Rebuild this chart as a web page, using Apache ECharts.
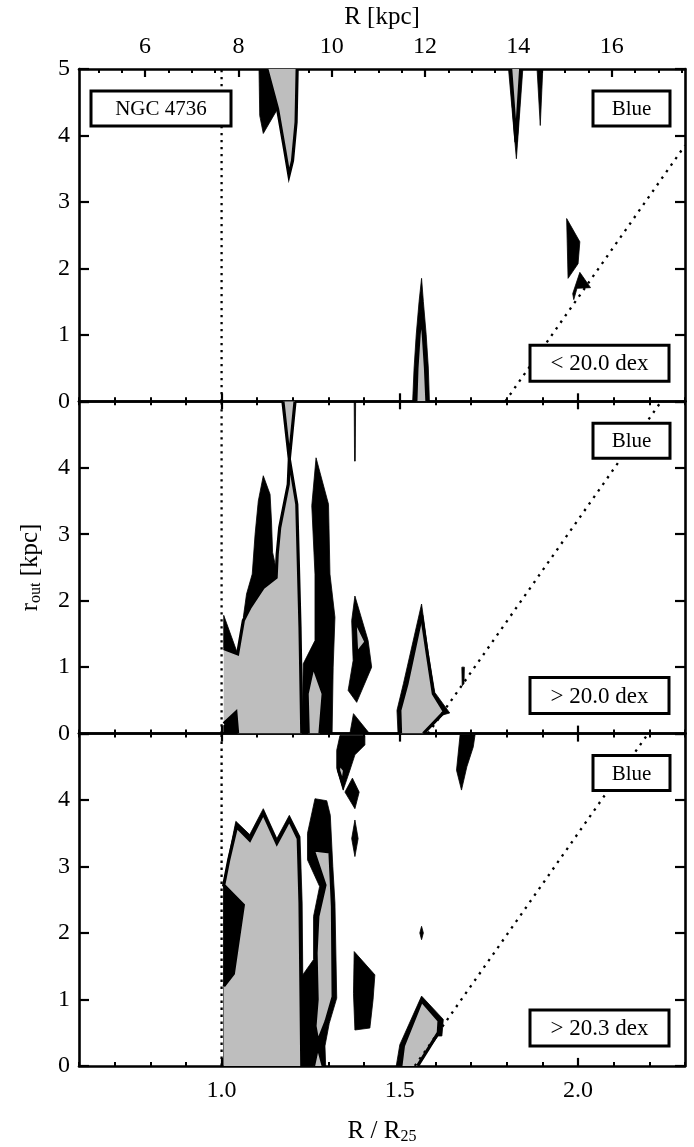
<!DOCTYPE html>
<html>
<head>
<meta charset="utf-8">
<script src="https://cdn.jsdelivr.net/npm/echarts@6.0.0/dist/echarts.min.js"></script>
<style>
html, body { margin: 0; padding: 0; background: #fff; }
#chart { width: 694px; height: 1147px; }
</style>
</head>
<body>
<div id="chart"></div>
<script>
// ---------------- data ----------------
var R25_KPC = 7.64;                 // kpc per R25
var X_RANGE = [0.6, 2.3];           // R / R25
var Y_RANGE = [0, 5];               // r_out [kpc]
var rMajorTicks = [1.0, 1.5, 2.0];
var kpcLabelTicks = [6, 8, 10, 12, 14, 16];
var kpcMinorTicks = [5, 5.5, 6, 6.5, 7, 7.5, 8, 8.5, 9, 9.5, 10, 10.5, 11, 11.5,
                     12, 12.5, 13, 13.5, 14, 14.5, 15, 15.5, 16, 16.5, 17, 17.5];
var yLabelsTop = [0, 1, 2, 3, 4, 5];
var yLabelsLower = [0, 1, 2, 3, 4];
var galaxyName = 'NGC 4736';
var bandName = 'Blue';
var thresholdLabels = ['< 20.0 dex', '> 20.0 dex', '> 20.3 dex'];
var r25Position = 1.0;
var cutoffStart = [1.796, 1.579, 1.542];   // R/R25 where r_out = R - R0 reaches 0

// contour polygons [R/R25, r_out]: outer level (black) and inner level (grey)
var blackTop = [
  [[1.105, 5], [1.13, 5], [1.157, 4.4], [1.117, 4.03], [1.107, 4.3]],
  [[1.805, 5], [1.845, 5], [1.827, 3.65]],
  [[1.885, 5], [1.901, 5], [1.894, 4.15]],
  [[1.536, 0], [1.583, 0], [1.58, 0.5], [1.574, 1.0], [1.566, 1.5], [1.561, 1.85],
   [1.554, 1.5], [1.546, 1.0], [1.54, 0.5]],
  [[1.968, 2.75], [2.005, 2.40], [2.0, 2.07], [1.972, 1.85]],
  [[2.005, 1.94], [2.035, 1.71], [1.997, 1.7], [1.988, 1.53], [1.985, 1.62]]
];
var greyTop = [
  [[1.127, 5], [1.212, 5], [1.209, 4.2], [1.199, 3.62], [1.189, 3.4], [1.178, 3.75], [1.157, 4.4]],
  [[1.811, 5], [1.839, 5], [1.826, 3.9]],
  [[1.545, 0], [1.576, 0], [1.572, 0.5], [1.566, 1.0], [1.561, 1.35], [1.554, 1.0], [1.548, 0.5]]
];

var blackMid = [
  [[1.061, 1.75], [1.07, 2.1], [1.086, 2.4], [1.094, 3.0], [1.103, 3.5], [1.117, 3.88],
   [1.136, 3.6], [1.14, 3.2], [1.143, 2.73], [1.158, 2.35], [1.117, 2.1], [1.08, 1.8]],
  [[1.006, 1.78], [1.045, 1.2], [1.006, 1.28]],
  [[1.006, 0], [1.006, 0.12], [1.042, 0.32], [1.05, 0]],
  [[1.265, 4.15], [1.3, 3.45], [1.304, 2.4], [1.318, 1.75], [1.313, 1.0], [1.31, 0],
   [1.226, 0], [1.229, 1.05], [1.262, 1.4], [1.262, 2.4], [1.253, 3.43]],
  [[1.374, 2.07], [1.411, 1.4], [1.421, 1.0], [1.379, 0.47], [1.355, 0.65], [1.369, 1.1], [1.365, 1.7]],
  [[1.37, 0.3], [1.415, 0], [1.36, 0]],
  [[1.561, 1.95], [1.58, 1.2], [1.598, 0.62], [1.64, 0.31], [1.62, 0.28], [1.566, 0],
   [1.495, 0], [1.492, 0.35], [1.51, 0.75]],
  [[1.674, 1.0], [1.681, 1.0], [1.68, 0.75], [1.675, 0.72]],
  [[1.372, 5], [1.376, 5], [1.375, 4.1], [1.373, 4.1]]
];
var greyMid = [
  [[1.045, 0], [1.04, 0.32], [1.006, 0.15], [1.006, 1.28], [1.045, 1.2], [1.061, 1.7], [1.08, 1.9],
   [1.117, 2.2], [1.153, 2.35], [1.156, 2.7], [1.163, 3.1], [1.187, 3.75], [1.19, 4.13],
   [1.211, 3.45], [1.22, 1.6], [1.225, 0]],
  [[1.172, 5], [1.206, 5], [1.19, 4.13]],
  [[1.243, 0], [1.276, 0], [1.285, 0.6], [1.257, 1.02], [1.24, 0.6]],
  [[1.374, 1.72], [1.405, 1.38], [1.379, 1.2]],
  [[1.561, 1.78], [1.577, 1.2], [1.594, 0.6], [1.625, 0.33], [1.566, 0], [1.502, 0], [1.5, 0.35], [1.52, 0.75]]
];

var blackLow = [
  [[1.006, 2.75], [1.02, 3.15], [1.04, 3.68], [1.079, 3.48], [1.117, 3.87], [1.155, 3.42],
   [1.19, 3.77], [1.22, 3.45], [1.226, 2.45], [1.23, 0], [1.006, 0]],
  [[1.006, 2.72], [1.061, 2.42], [1.033, 1.39], [1.006, 1.2]],
  [[1.262, 4.02], [1.295, 3.99], [1.305, 3.77], [1.312, 3.0], [1.318, 2.45], [1.323, 1.02],
   [1.302, 0.64], [1.29, 0.3], [1.292, 0], [1.225, 0], [1.225, 1.35], [1.258, 1.6],
   [1.258, 2.25], [1.275, 2.7], [1.241, 3.1], [1.241, 3.5]],
  [[1.372, 1.72], [1.43, 1.37], [1.425, 1.0], [1.416, 0.57], [1.374, 0.54], [1.37, 1.09]],
  [[1.332, 4.97], [1.402, 4.97], [1.402, 4.83], [1.374, 4.68], [1.36, 4.45], [1.341, 4.15],
   [1.323, 4.48], [1.323, 4.75]],
  [[1.367, 4.33], [1.386, 4.12], [1.374, 3.87], [1.346, 4.12]],
  [[1.374, 3.7], [1.383, 3.42], [1.374, 3.15], [1.365, 3.42]],
  [[1.669, 4.98], [1.711, 4.98], [1.706, 4.8], [1.688, 4.5], [1.673, 4.15], [1.659, 4.45]],
  [[1.561, 1.05], [1.622, 0.7], [1.618, 0.45], [1.607, 0.45], [1.547, 0], [1.49, 0], [1.5, 0.32]],
  [[1.561, 2.1], [1.566, 2.0], [1.561, 1.9], [1.556, 2.0]]
];
var greyLow = [
  [[1.006, 0], [1.006, 1.2], [1.033, 1.39], [1.061, 2.42], [1.006, 2.72], [1.02, 3.1], [1.042, 3.6],
   [1.079, 3.4], [1.117, 3.8], [1.155, 3.35], [1.19, 3.7], [1.215, 3.42], [1.22, 2.45], [1.225, 0]],
  [[1.257, 3.25], [1.304, 3.22], [1.311, 2.4], [1.313, 1.04], [1.293, 0.67], [1.27, 0.36],
   [1.262, 0.6], [1.268, 1.0], [1.265, 1.7], [1.27, 2.25], [1.29, 2.72]],
  [[1.258, 0], [1.285, 0], [1.27, 0.3]],
  [[1.33, 4.55], [1.345, 4.45], [1.34, 4.25], [1.328, 4.45]],
  [[1.561, 0.98], [1.61, 0.68], [1.608, 0.5], [1.55, 0], [1.503, 0], [1.51, 0.3]]
];

var panels = [
  { black: blackTop, grey: greyTop },
  { black: blackMid, grey: greyMid },
  { black: blackLow, grey: greyLow }
];

// ---------------- layout & style ----------------
var FONT = '"Liberation Serif", "Times New Roman", serif';
var G_LEFT = 79, G_RIGHT = 9, G_TOP = 69, G_H = 332.3;
var PLOT_W = 694 - G_LEFT - G_RIGHT;
var FRAME_W = 2.6;
var GREY = '#bebebe';
var TICK_FONT = 24;

function baseAxis(gi, pos, min, max) {
  return {
    type: 'value', gridIndex: gi, position: pos, min: min, max: max,
    splitLine: { show: false },
    axisLine: { show: true, onZero: false, lineStyle: { color: '#000', width: FRAME_W } },
    axisTick: { show: true, inside: true, length: 4, lineStyle: { color: '#000', width: 2 } },
    axisLabel: { show: false }
  };
}
function labelStyle(extra) {
  var s = { show: true, color: '#000', fontFamily: FONT, fontSize: TICK_FONT };
  for (var k in extra) s[k] = extra[k];
  return s;
}

function onBoundary(p, q) {
  return (p[1] <= 0.001 && q[1] <= 0.001) ||
         (p[1] >= 4.97 && q[1] >= 4.97) ||
         (p[0] <= 1.007 && q[0] <= 1.007);
}

function contourSeries(xIdx, yIdx, polys, fill, outlineW, z) {
  return {
    type: 'custom', xAxisIndex: xIdx, yAxisIndex: yIdx, silent: true, animation: false,
    clip: true, z: z,
    data: polys.map(function (p, k) { return [p[0][0], p[0][1], k]; }),
    encode: { x: 0, y: 1 },
    renderItem: function (params, api) {
      var poly = polys[params.dataIndex];
      var pts = poly.map(function (p) { return api.coord(p); });
      var kids = [{
        type: 'polygon', shape: { points: pts },
        style: { fill: fill, stroke: outlineW ? 'none' : fill, lineWidth: outlineW ? 0 : 0.8 }
      }];
      if (outlineW) {
        // contour line: stroke every edge that does not lie on the data boundary
        var segs = [], cur = [];
        for (var k = 0; k < poly.length; k++) {
          var p = poly[k], q = poly[(k + 1) % poly.length];
          if (onBoundary(p, q)) {
            if (cur.length > 1) segs.push(cur);
            cur = [];
            continue;
          }
          if (!cur.length) cur.push(api.coord(p));
          cur.push(api.coord(q));
        }
        if (cur.length > 1) segs.push(cur);
        segs.forEach(function (s) {
          kids.push({
            type: 'polyline', shape: { points: s },
            style: { fill: 'none', stroke: '#000', lineWidth: outlineW, lineJoin: 'miter', miterLimit: 8 }
          });
        });
      }
      return { type: 'group', children: kids };
    }
  };
}

function box(x, y, w, h, text, size) {
  return {
    type: 'group',
    children: [
      { type: 'rect', z: 100, shape: { x: x, y: y, width: w, height: h },
        style: { fill: '#fff', stroke: '#000', lineWidth: 3 } },
      { type: 'text', z: 101, x: x + w / 2, y: y + h / 2 + 1,
        style: { text: text, fill: '#000', font: size + 'px ' + FONT,
                 textAlign: 'center', textVerticalAlign: 'middle',
                 align: 'center', verticalAlign: 'middle' } }
    ]
  };
}

var grids = [], xAxes = [], yAxes = [], series = [], graphics = [];

for (var i = 0; i < 3; i++) {
  var panelTop = G_TOP + i * G_H;
  grids.push({ left: G_LEFT, right: G_RIGHT, top: panelTop, height: G_H });

  // bottom R/R25 axis: minor ticks every 0.1, major ticks (and labels on the last panel)
  var xIdx = xAxes.length;
  var ax = baseAxis(i, 'bottom', X_RANGE[0], X_RANGE[1]);
  ax.interval = 0.1;
  xAxes.push(ax);
  ax = baseAxis(i, 'bottom', X_RANGE[0], X_RANGE[1]);
  ax.axisLine.show = false;
  ax.axisTick = { show: true, inside: true, length: 8, customValues: rMajorTicks,
                  lineStyle: { color: '#000', width: 2.2 } };
  if (i === 2) {
    ax.axisLabel = labelStyle({ customValues: rMajorTicks, margin: 13,
                                formatter: function (v) { return v.toFixed(1); } });
  }
  xAxes.push(ax);

  // top axis: kpc on the first panel, R/R25 ticks on the others
  if (i === 0) {
    ax = baseAxis(i, 'top', X_RANGE[0] * R25_KPC, X_RANGE[1] * R25_KPC);
    ax.axisTick = { show: true, inside: true, length: 4, customValues: kpcMinorTicks,
                    lineStyle: { color: '#000', width: 2 } };
    xAxes.push(ax);
    ax = baseAxis(i, 'top', X_RANGE[0] * R25_KPC, X_RANGE[1] * R25_KPC);
    ax.axisLine.show = false;
    ax.axisTick = { show: true, inside: true, length: 8, customValues: kpcLabelTicks,
                    lineStyle: { color: '#000', width: 2.2 } };
    ax.axisLabel = labelStyle({ customValues: kpcLabelTicks, margin: 10 });
    xAxes.push(ax);
  } else {
    ax = baseAxis(i, 'top', X_RANGE[0], X_RANGE[1]);
    ax.interval = 0.1;
    xAxes.push(ax);
    ax = baseAxis(i, 'top', X_RANGE[0], X_RANGE[1]);
    ax.axisLine.show = false;
    ax.axisTick = { show: true, inside: true, length: 8, customValues: rMajorTicks,
                    lineStyle: { color: '#000', width: 2.2 } };
    xAxes.push(ax);
  }

  // r_out axes
  var yIdx = yAxes.length;
  ax = baseAxis(i, 'left', Y_RANGE[0], Y_RANGE[1]);
  ax.interval = 1;
  ax.axisTick.length = 10;
  ax.axisTick.lineStyle.width = 2.2;
  ax.axisLabel = labelStyle({ customValues: i === 0 ? yLabelsTop : yLabelsLower, margin: 9 });
  yAxes.push(ax);
  ax = baseAxis(i, 'right', Y_RANGE[0], Y_RANGE[1]);
  ax.interval = 1;
  ax.axisTick.length = 10;
  ax.axisTick.lineStyle.width = 2.2;
  yAxes.push(ax);

  // contours
  series.push(contourSeries(xIdx, yIdx, panels[i].black, '#000', 0, 2));
  series.push(contourSeries(xIdx, yIdx, panels[i].grey, GREY, 3.2, 3));

  // dotted guides: R = R25 and r_out = R - R0
  series.push({
    type: 'line', xAxisIndex: xIdx, yAxisIndex: yIdx, symbol: 'none', silent: true,
    animation: false, z: 5,
    data: [[r25Position, Y_RANGE[0]], [r25Position, Y_RANGE[1]]],
    lineStyle: { color: '#000', width: 2.3, type: [2.4, 4.6], cap: 'butt' }
  });
  series.push({
    type: 'line', xAxisIndex: xIdx, yAxisIndex: yIdx, symbol: 'none', silent: true,
    animation: false, z: 5, clip: true,
    data: [[cutoffStart[i], 0], [X_RANGE[1], R25_KPC * (X_RANGE[1] - cutoffStart[i])]],
    lineStyle: { color: '#000', width: 2.3, type: [2.4, 5.6], cap: 'butt' }
  });

  // labelled boxes
  graphics.push(box(593, panelTop + 22, 77, 35, bandName, 21));
  graphics.push(box(530, panelTop + G_H - 20 - 36, 139, 36, thresholdLabels[i], 23));
  if (i === 0) graphics.push(box(91, panelTop + 22, 140, 35, galaxyName, 21));
}

// axis titles
var centerX = G_LEFT + PLOT_W / 2;
var titleRich = {
  m: { fontFamily: FONT, fontSize: 25, lineHeight: 28, verticalAlign: 'middle', color: '#000' },
  s: { fontFamily: FONT, fontSize: 16, lineHeight: 28, verticalAlign: 'bottom', color: '#000' }
};
graphics.push({
  type: 'text', x: centerX, y: 17, z: 100,
  style: { text: 'R [kpc]', fill: '#000', font: '25px ' + FONT,
           textAlign: 'center', textVerticalAlign: 'middle', align: 'center', verticalAlign: 'middle' }
});
graphics.push({
  type: 'text', x: centerX, y: 1131, z: 100,
  style: { text: '{m|R / R}{s|25}', fill: '#000', rich: titleRich,
           textAlign: 'center', textVerticalAlign: 'middle', align: 'center', verticalAlign: 'middle' }
});
graphics.push({
  type: 'text', x: 30, y: G_TOP + 1.5 * G_H, rotation: Math.PI / 2, z: 100,
  style: { text: '{m|r}{s|out}{m| [kpc]}', fill: '#000', rich: titleRich,
           textAlign: 'center', textVerticalAlign: 'middle', align: 'center', verticalAlign: 'middle' }
});

var chart = echarts.init(document.getElementById('chart'));
chart.setOption({
  animation: false,
  backgroundColor: '#fff',
  grid: grids,
  xAxis: xAxes,
  yAxis: yAxes,
  series: series,
  graphic: graphics
});
</script>
</body>
</html>
